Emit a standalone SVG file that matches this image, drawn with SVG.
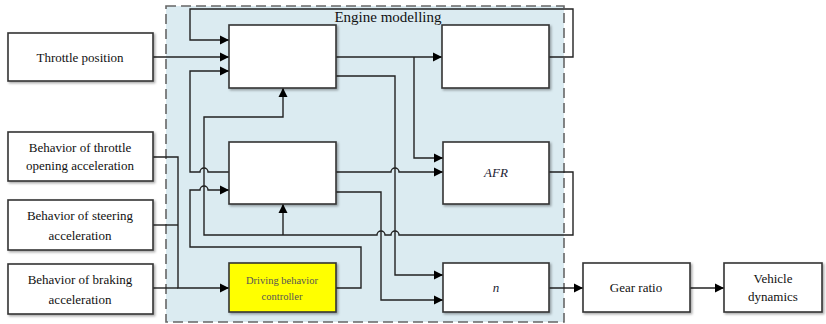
<svg xmlns="http://www.w3.org/2000/svg" width="826" height="324" viewBox="0 0 826 324">
<defs>
<marker id="ah" markerWidth="10" markerHeight="10" refX="9" refY="5" orient="auto" markerUnits="userSpaceOnUse">
<path d="M0,0.5 L9,5 L0,9.5 Z" fill="#000"/>
</marker>
<filter id="sh" x="-10%" y="-10%" width="130%" height="140%">
<feDropShadow dx="1.5" dy="1.5" stdDeviation="1" flood-color="#000" flood-opacity="0.35"/>
</filter>
<style>
.box{fill:#fff;stroke:#333;stroke-width:1.6;filter:url(#sh)}
.yel{fill:#ffff00;stroke:#333;stroke-width:1.6;filter:url(#sh)}
.t{font-size:13px;fill:#111;text-anchor:middle}
.ts{font-size:10.5px;fill:#555;text-anchor:middle}
.ti{font-size:13px;font-style:italic;fill:#223;text-anchor:middle}
.c{fill:none;stroke:#222;stroke-width:1.4}
.a{marker-end:url(#ah)}
</style>
</defs>
<rect width="826" height="324" fill="#fff"/>
<g id="engine-modelling" font-family="Liberation Serif, serif">
<rect x="166" y="6" width="398" height="316" fill="#dbebf1" stroke="#666" stroke-width="1.6" stroke-dasharray="10,5"/>
<text x="388" y="22" font-size="15" fill="#111" text-anchor="middle">Engine modelling</text>
</g>
<g id="connectors">
<path class="c a" d="M153 57 H229"/>
<path class="c a" d="M549 57 H573 V9 H190 V40 H229"/>
<path class="c a" d="M229 172 H208 A4 4 0 0 0 200 172 H190 V71 H229"/>
<path class="c a" d="M336 57 H442"/>
<path class="c a" d="M414 57 V158 H443"/>
<path class="c a" d="M336 76 H395 V275 H443"/>
<path class="c a" d="M336 172 H391 A4 4 0 0 1 399 172 H443"/>
<path class="c a" d="M336 192 H381 V300 H443"/>
<path class="c a" d="M549 172 H573 V235 H399 A4 4 0 0 0 391 235 H385 A4 4 0 0 0 377 235 H204 V117 H283 V88"/>
<path class="c a" d="M283 235 V204"/>
<path class="c a" d="M336 288 H361 V247 H190 V190 H200 A4 4 0 0 1 208 190 H229"/>
<path class="c a" d="M153 157 H178 V288 H229"/>
<path class="c" d="M153 225 H178"/>
<path class="c" d="M153 288 H178"/>
<path class="c a" d="M549 288 H583"/>
<path class="c a" d="M690 288 H724"/>
</g>
<g font-family="Liberation Serif, serif">
<g id="throttle-position">
<rect class="box" x="8" y="33" width="145" height="48"/>
<text class="t" x="80" y="62">Throttle position</text>
</g>
<g id="throttle-opening">
<rect class="box" x="8" y="132" width="145" height="49"/>
<text class="t" x="80" y="152">Behavior of throttle</text>
<text class="t" x="80" y="170">opening acceleration</text>
</g>
<g id="steering">
<rect class="box" x="8" y="200" width="145" height="50"/>
<text class="t" x="80" y="220">Behavior of steering</text>
<text class="t" x="80" y="240">acceleration</text>
</g>
<g id="braking">
<rect class="box" x="8" y="264" width="145" height="50"/>
<text class="t" x="80" y="284">Behavior of braking</text>
<text class="t" x="80" y="304">acceleration</text>
</g>
<g id="block1"><rect class="box" x="229" y="25" width="107" height="63"/></g>
<g id="block2"><rect class="box" x="442" y="25" width="107" height="63"/></g>
<g id="block3"><rect class="box" x="229" y="142" width="107" height="62"/></g>
<g id="afr">
<rect class="box" x="443" y="142" width="106" height="62"/>
<text class="ti" x="496" y="177">AFR</text>
</g>
<g id="driving-behavior-controller">
<rect class="yel" x="229" y="263" width="107" height="49"/>
<text class="ts" x="282" y="284">Driving behavior</text>
<text class="ts" x="282" y="300">controller</text>
</g>
<g id="n">
<rect class="box" x="443" y="263" width="106" height="49"/>
<text class="ti" x="496" y="292">n</text>
</g>
<g id="gear-ratio">
<rect class="box" x="583" y="263" width="107" height="49"/>
<text class="t" x="636" y="292">Gear ratio</text>
</g>
<g id="vehicle-dynamics">
<rect class="box" x="724" y="263" width="98" height="49"/>
<text class="t" x="773" y="283">Vehicle</text>
<text class="t" x="773" y="301">dynamics</text>
</g>
</g>
</svg>
